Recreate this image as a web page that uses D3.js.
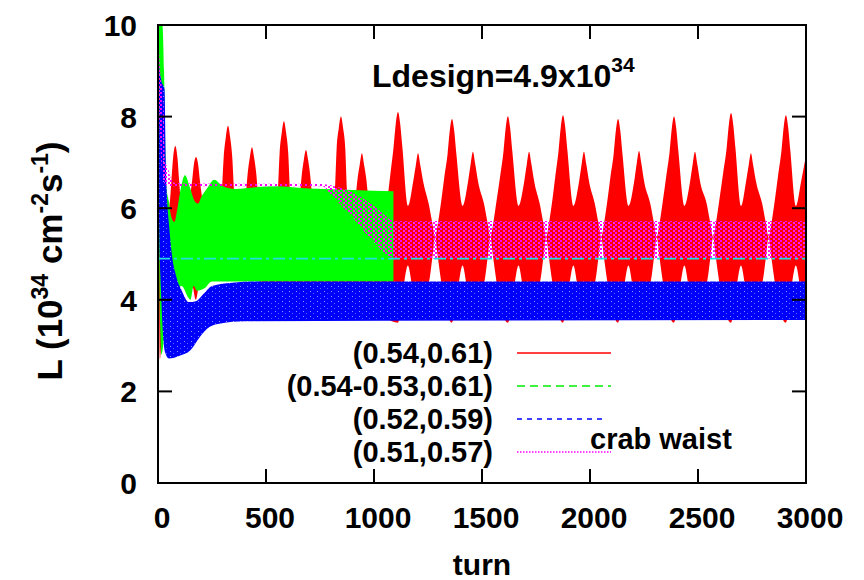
<!DOCTYPE html>
<html><head><meta charset="utf-8">
<script src="https://cdn.jsdelivr.net/npm/d3@7"></script>
<style>
body{margin:0;background:#fff}
svg{display:block}
text{font-family:"Liberation Sans",Arial,Helvetica,sans-serif;font-weight:bold;fill:#000}
</style>
</head><body>
<svg id="chart" width="864" height="580"></svg>
<script>
// ---------------- data ----------------
const xTicks = [0, 500, 1000, 1500, 2000, 2500, 3000];
const yTicks = [0, 2, 4, 6, 8, 10];
const seriesLabels = ["(0.54,0.61)", "(0.54-0.53,0.61)", "(0.52,0.59)", "(0.51,0.57)"];
const seriesColors = ["#ff0000", "#00ee00", "#0000ff", "#ff00ff"];
const ldesign = 4.9;

// (0.54,0.61) : envelope of the turn-by-turn luminosity [turn, L]
const redUpper = [
 [0,10],[4,9.6],[10,8.2],[18,6.8],[30,5.8],[45,5.9],[56,6.2],[62,6.6],[70,7.1],[80,7.36],[90,7.1],[98,6.6],[104,6.2],[130,5.5],
 [147,6.2],[158,6.6],[166,6.95],[176,7.12],[186,6.95],[194,6.6],[205,6.2],[230,5.6],[255,5.4],[285,5.8],
 [296,6.4],[304,7.1],[314,7.55],[324,7.8],[334,7.55],[344,7.1],[352,6.4],[364,6.0],[380,5.7],
 [395,5.9],[407,6.3],[415,6.75],[425,7.1],[435,7.33],[445,7.1],[455,6.75],[463,6.3],[475,5.9],[510,5.4],
 [545,5.9],[555,6.4],[563,7.2],[573,7.65],[583,7.9],[593,7.65],[603,7.2],[611,6.4],[623,6.0],[635,5.8],
 [645,5.9],[657,6.3],[665,6.7],[675,7.05],[685,7.27],[695,7.05],[705,6.7],[713,6.3],[725,5.9],[765,5.4],
 [807,5.9],[819,6.4],[827,7.3],[837,7.75],[847,8.0],[857,7.75],[867,7.3],[875,6.4],[887,6.0],[895,5.9],
 [904,5.9],[916,6.3],[924,6.65],[934,6.95],[944,7.2],[954,6.95],[964,6.65],[972,6.3],[984,5.9],[1019,5.6],[1033,5.37],
 [1047,5.7],[1061,6.15],[1076,6.75],[1091,7.35],[1101,7.85],[1111,8.1],[1121,7.85],[1131,7.35],[1157,6.05],[1182,6.6],[1194,6.95],[1204,7.2],[1214,6.95],[1229,6.55],[1253,6.1],[1269,5.7],[1283,5.37],
 [1297,5.7],[1311,6.15],[1326,6.7],[1341,7.2],[1351,7.7],[1361,7.95],[1371,7.7],[1381,7.2],[1410,6.05],[1436,6.6],[1448,6.98],[1458,7.23],[1468,6.98],[1483,6.55],[1509,6.1],[1525,5.7],[1539,5.37],
 [1553,5.7],[1567,6.15],[1584,6.7],[1600,7.26],[1610,7.76],[1620,8.01],[1630,7.76],[1640,7.26],[1669,6.05],[1696,6.6],[1708,6.98],[1718,7.23],[1728,6.98],[1743,6.55],[1767,6.1],[1783,5.7],[1797,5.37],
 [1811,5.7],[1825,6.15],[1840,6.72],[1855,7.28],[1865,7.78],[1875,8.03],[1885,7.78],[1895,7.28],[1923,6.05],[1950,6.6],[1962,6.98],[1972,7.23],[1982,6.98],[1997,6.55],[2022,6.1],[2038,5.7],[2052,5.37],
 [2066,5.7],[2080,6.15],[2095,6.7],[2110,7.2],[2120,7.7],[2130,7.95],[2140,7.7],[2150,7.2],[2178,6.05],[2205,6.6],[2217,7.0],[2227,7.25],[2237,7.0],[2252,6.55],[2279,6.1],[2295,5.7],[2309,5.37],
 [2323,5.7],[2337,6.15],[2353,6.7],[2369,7.25],[2379,7.75],[2389,8.0],[2399,7.75],[2409,7.25],[2437,6.05],[2464,6.6],[2476,6.98],[2486,7.23],[2496,6.98],[2511,6.55],[2540,6.1],[2556,5.7],[2570,5.37],
 [2584,5.7],[2598,6.15],[2616,6.75],[2633,7.33],[2643,7.83],[2653,8.08],[2663,7.83],[2673,7.33],[2699,6.05],[2723,6.6],[2735,6.95],[2745,7.2],[2755,6.95],[2770,6.55],[2797,6.1],[2813,5.7],[2827,5.37],
 [2841,5.7],[2855,6.15],[2871,6.72],[2887,7.28],[2897,7.78],[2907,8.03],[2917,7.78],[2927,7.28],[2953,6.05],[2978,6.6],[2990,6.9],[3000,7.15]
];
const redLower = [
 [0,10],[2,7],[5,4],[9,2.7],[14,3.0],[22,3.8],[40,4.4],[100,4.5],[140,4.4],[160,4.3],[175,4.0],[190,4.35],[205,4.6],[450,4.6],
 [500,4.0],[700,3.7],[1000,3.7],
 [1111,3.5],[1137,4.3],[1157,4.75],[1177,4.3],[1204,3.9],[1255,4.4],[1271,4.95],[1283,5.37],[1295,4.95],[1311,4.4],
 [1361,3.5],[1390,4.3],[1410,4.75],[1430,4.3],[1458,3.9],[1511,4.4],[1527,4.95],[1539,5.37],[1551,4.95],[1567,4.4],
 [1620,3.5],[1649,4.3],[1669,4.75],[1689,4.3],[1718,3.9],[1769,4.4],[1785,4.95],[1797,5.37],[1809,4.95],[1825,4.4],
 [1875,3.5],[1903,4.3],[1923,4.75],[1943,4.3],[1972,3.9],[2024,4.4],[2040,4.95],[2052,5.37],[2064,4.95],[2080,4.4],
 [2130,3.5],[2158,4.3],[2178,4.75],[2198,4.3],[2227,3.9],[2281,4.4],[2297,4.95],[2309,5.37],[2321,4.95],[2337,4.4],
 [2389,3.5],[2417,4.3],[2437,4.75],[2457,4.3],[2486,3.9],[2542,4.4],[2558,4.95],[2570,5.37],[2582,4.95],[2598,4.4],
 [2653,3.5],[2679,4.3],[2699,4.75],[2719,4.3],[2745,3.9],[2799,4.4],[2815,4.95],[2827,5.37],[2839,4.95],[2855,4.4],
 [2907,3.5],[2933,4.3],[2953,4.75],[2973,4.3],[3000,3.9]
];

// (0.54-0.53,0.61)
const greenUpper = [
 [0,10],[20,10],[28,9],[33,7.5],[38,6.5],[50,6.15],[62,5.8],[75,5.7],[90,6.0],[102,6.35],[125,6.72],[148,6.45],[170,6.15],
 [185,6.1],[200,6.24],[230,6.45],[260,6.62],[300,6.48],[360,6.42],[450,6.46],[550,6.48],[700,6.43],[900,6.4],[1090,6.37]
];
const greenLower = [
 [0,10],[4,6],[10,3.5],[16,2.8],[24,3.0],[35,3.5],[60,3.9],[110,4.3],[140,4.05],[150,4.0],[165,4.3],[180,4.2],[215,4.25],
 [250,4.4],[1090,4.4]
];

// (0.52,0.59)
const blueUpper = [
 [0,10],[4,9.2],[15,8.8],[30,8.6],[36,7.0],[42,6.2],[50,5.7],[64,5.0],[85,4.5],[110,4.2],[143,3.95],[175,3.97],[215,4.15],
 [250,4.3],[343,4.37],[450,4.4],[3000,4.4]
];
const blueLower = [
 [0,10],[2,8],[5,5.7],[14,4.2],[33,2.85],[50,2.72],[100,2.78],[150,2.9],[194,3.19],[240,3.41],[290,3.48],[400,3.53],[3000,3.56]
];

// (0.51,0.57) crab waist
const magUpper = [
 [0,10],[10,9.0],[25,8.3],[32,7.0],[45,6.9],[60,6.65],[80,6.55],[160,6.54],[760,6.53],[800,6.5],[900,6.35],[1000,6.05],
 [1100,5.72],[3000,5.72]
];
const magLower = [
 [0,9.5],[10,7.5],[25,6.6],[40,6.5],[60,6.48],[760,6.48],[800,6.3],[900,5.8],[1000,5.25],[1100,4.9],[3000,4.9]
];

// ---------------- drawing ----------------
const svg = d3.select("#chart");
const X0 = 158, X1 = 806, Y0 = 25, Y1 = 483;
const x = d3.scaleLinear().domain([0, 3000]).range([X0, X1]);
const y = d3.scaleLinear().domain([0, 10]).range([Y1, Y0]);

const defs = svg.append("defs");
defs.append("clipPath").attr("id", "plotClip")
  .append("rect").attr("x", X0).attr("y", Y0).attr("width", X1 - X0).attr("height", Y1 - Y0);

const mp = defs.append("pattern").attr("id", "magPat").attr("patternUnits", "userSpaceOnUse")
  .attr("width", 5).attr("height", 4);
mp.append("rect").attr("x", 0).attr("y", 0).attr("width", 2).attr("height", 2).attr("fill", "#ff00ff");
mp.append("rect").attr("x", 3).attr("y", 2).attr("width", 2).attr("height", 2).attr("fill", "#ff22ee");

const bp = defs.append("pattern").attr("id", "bluePat").attr("patternUnits", "userSpaceOnUse")
  .attr("width", 7).attr("height", 5);
bp.append("rect").attr("width", 7).attr("height", 5).attr("fill", "#0000ff");
bp.append("rect").attr("x", 2).attr("y", 1).attr("width", 1).attr("height", 1).attr("fill", "#9090ff");
bp.append("rect").attr("x", 5).attr("y", 3).attr("width", 1).attr("height", 1).attr("fill", "#6060ff");

const line = d3.line().x(d => x(d[0])).y(d => y(d[1])).curve(d3.curveMonotoneX);
function band(upper, lower) {
  const a = line(upper);
  const b = line(lower.slice().reverse());
  return a + "L" + b.substring(1) + "Z";
}

const plot = svg.append("g").attr("clip-path", "url(#plotClip)");
plot.append("path").attr("d", band(redUpper, redLower)).attr("fill", "#ff0000");
plot.append("path").attr("d", band(greenUpper, greenLower)).attr("fill", "#00ff00");
plot.append("path").attr("d", band(blueUpper, blueLower)).attr("fill", "url(#bluePat)");
plot.append("path").attr("d", band(magUpper, magLower)).attr("fill", "url(#magPat)");
plot.append("line")
  .attr("x1", x(0)).attr("x2", x(3000)).attr("y1", y(ldesign)).attr("y2", y(ldesign))
  .attr("stroke", "#22dede").attr("stroke-width", 1.6).attr("stroke-dasharray", "12,4,3,4");

// frame and ticks
const frame = svg.append("g").attr("stroke", "#000").attr("stroke-width", 2).attr("fill", "none");
frame.append("rect").attr("x", X0).attr("y", Y0).attr("width", X1 - X0).attr("height", Y1 - Y0);
const tl = 14;
xTicks.forEach(t => {
  if (t === 0 || t === 3000) return;
  frame.append("line").attr("x1", x(t)).attr("x2", x(t)).attr("y1", Y1).attr("y2", Y1 - tl);
  frame.append("line").attr("x1", x(t)).attr("x2", x(t)).attr("y1", Y0).attr("y2", Y0 + tl);
});
yTicks.forEach(v => {
  if (v === 0 || v === 10) return;
  frame.append("line").attr("x1", X0).attr("x2", X0 + tl).attr("y1", y(v)).attr("y2", y(v));
  frame.append("line").attr("x1", X1).attr("x2", X1 - tl).attr("y1", y(v)).attr("y2", y(v));
});

const fs = 30;
svg.append("g").selectAll("text").data(xTicks).join("text")
  .attr("x", d => x(d) + 4).attr("y", 528).attr("text-anchor", "middle")
  .attr("font-size", fs).text(d => d);
svg.append("g").selectAll("text").data(yTicks).join("text")
  .attr("x", 137).attr("y", d => y(d) + 11).attr("text-anchor", "end")
  .attr("font-size", fs).text(d => d);

svg.append("text").attr("x", (X0 + X1) / 2).attr("y", 575).attr("text-anchor", "middle")
  .attr("font-size", fs).text("turn");

// y label
const yl = svg.append("text").attr("transform", "translate(62,261) rotate(-90)")
  .attr("text-anchor", "middle").attr("font-size", 35);
yl.append("tspan").text("L (10");
yl.append("tspan").attr("font-size", 23).attr("dy", -14).text("34");
yl.append("tspan").attr("dy", 14).text(" cm");
yl.append("tspan").attr("font-size", 23).attr("dy", -14).text("-2");
yl.append("tspan").attr("dy", 14).text("s");
yl.append("tspan").attr("font-size", 23).attr("dy", -14).text("-1");
yl.append("tspan").attr("dy", 14).text(")");

// Ldesign annotation
const ld = svg.append("text").attr("x", 372).attr("y", 87).attr("font-size", 32);
ld.append("tspan").text("Ldesign=" + ldesign + "x10");
ld.append("tspan").attr("font-size", 21).attr("dy", -15).text("34");

// legend
const legY = [353, 386, 419, 452];
const dashes = [null, "8,5", "5,5", "1.5,1.5"];
const leg = svg.append("g");
seriesLabels.forEach((s, i) => {
  leg.append("text").attr("x", 493).attr("y", legY[i] + 10).attr("text-anchor", "end")
    .attr("font-size", 29).text(s);
  leg.append("line").attr("x1", 517).attr("x2", i === 2 ? 606 : 611).attr("y1", legY[i]).attr("y2", legY[i])
    .attr("stroke", seriesColors[i]).attr("stroke-width", 1.3)
    .attr("stroke-dasharray", dashes[i]);
});
leg.append("text").attr("x", 590).attr("y", 449).attr("font-size", 29).text("crab waist");
</script>
</body></html>
